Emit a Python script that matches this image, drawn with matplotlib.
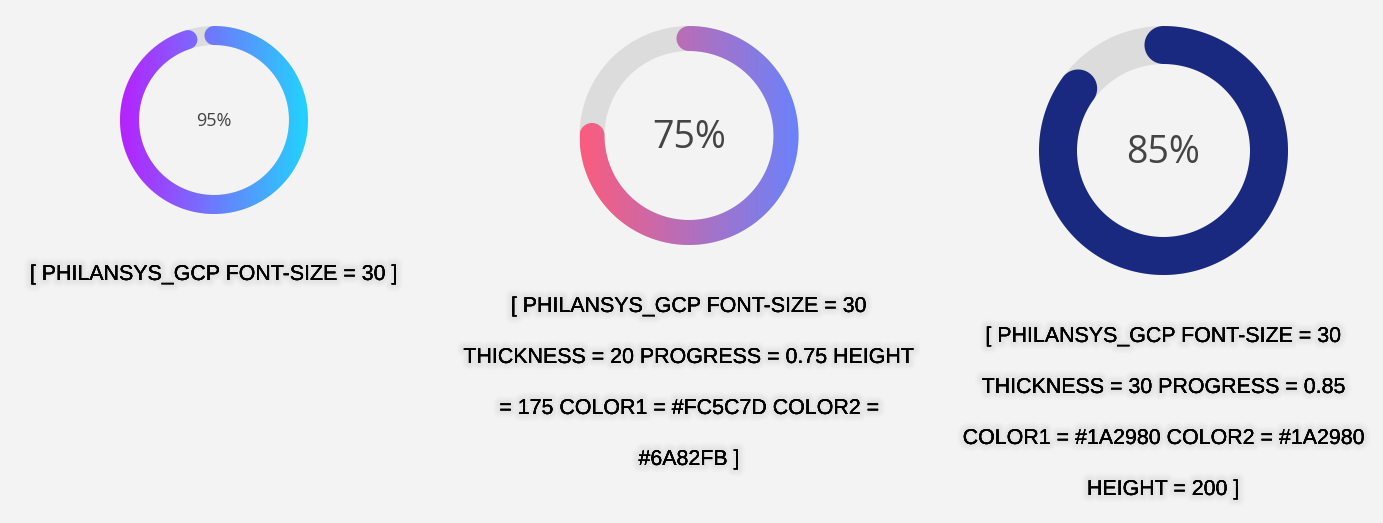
import numpy as np
import matplotlib.pyplot as plt
import matplotlib.patheffects as pe
from matplotlib.patches import Polygon, Wedge
from matplotlib.colors import LinearSegmentedColormap

# gauge settings (progress, colours, size in px)
progress = [0.95, 0.75, 0.85]
color1 = ['#B721FF', '#FC5C7D', '#1A2980']
color2 = ['#21D4FD', '#6A82FB', '#1A2980']
centers = [(214, 120), (689, 135.5), (1163.5, 150.5)]
outer_r = [94, 109.5, 124.5]
thickness = [19, 25, 38]
pct_size = [13, 27, 27]

labels = [
    ['[ PHILANSYS_GCP FONT-SIZE = 30 ]'],
    ['[ PHILANSYS_GCP FONT-SIZE = 30',
     'THICKNESS = 20 PROGRESS = 0.75 HEIGHT',
     '= 175 COLOR1 = #FC5C7D COLOR2 =',
     '#6A82FB ]'],
    ['[ PHILANSYS_GCP FONT-SIZE = 30',
     'THICKNESS = 30 PROGRESS = 0.85',
     'COLOR1 = #1A2980 COLOR2 = #1A2980',
     'HEIGHT = 200 ]'],
]
label_y0 = [280, 312, 342]
line_gap = 51

BG = '#f3f3f3'
TRACK = '#dcdcdc'


def arc_polygon(cx, cy, R, w, p, n=300):
    # filled outline of a thick arc with round caps, clockwise from 12 o'clock
    r = R - w
    rm = R - w / 2
    T = 2 * np.pi * p
    t = np.linspace(0, T, n)
    outer = np.c_[cx + R * np.sin(t), cy - R * np.cos(t)]
    inner = np.c_[cx + r * np.sin(t[::-1]), cy - r * np.cos(t[::-1])]
    phi = np.linspace(0, np.pi, 60)
    # end cap
    rad = np.array([np.sin(T), -np.cos(T)])
    tan = np.array([np.cos(T), np.sin(T)])
    c = np.array([cx + rm * np.sin(T), cy - rm * np.cos(T)])
    end_cap = c + (w / 2) * (np.cos(phi)[:, None] * rad + np.sin(phi)[:, None] * tan)
    # start cap
    rad0 = np.array([0, -1])
    tan0 = np.array([1, 0])
    c0 = np.array([cx, cy - rm])
    ph = phi[::-1]
    start_cap = c0 + (w / 2) * (np.cos(ph)[:, None] * rad0 - np.sin(ph)[:, None] * tan0)
    return np.vstack([outer, end_cap, inner, start_cap])


fig = plt.figure(figsize=(13.83, 5.23), dpi=100, facecolor=BG)
ax = fig.add_axes([0, 0, 1, 1])
ax.set_xlim(0, 1383)
ax.set_ylim(523, 0)
ax.set_aspect('equal')
ax.axis('off')
ax.set_facecolor(BG)

# soft grey text-shadow
glow = [pe.withStroke(linewidth=10, foreground='#999999', alpha=0.035),
        pe.withStroke(linewidth=7, foreground='#999999', alpha=0.05),
        pe.withStroke(linewidth=4, foreground='#999999', alpha=0.05),
        pe.Normal()]

for i, p in enumerate(progress):
    cx, cy = centers[i]
    R, w = outer_r[i], thickness[i]
    ax.add_patch(Wedge((cx, cy), R, 0, 360, width=w, facecolor=TRACK, edgecolor='none'))

    poly = Polygon(arc_polygon(cx, cy, R, w, p), closed=True,
                   facecolor='none', edgecolor='none')
    ax.add_patch(poly)
    cmap = LinearSegmentedColormap.from_list('g%d' % i, [color1[i], color2[i]])
    grad = np.linspace(0, 1, 256)[None, :]
    im = ax.imshow(grad, cmap=cmap, extent=(cx - R, cx + R, cy + R, cy - R),
                   aspect='auto', interpolation='bilinear', zorder=2)
    im.set_clip_path(poly)

    ax.text(cx, cy + pct_size[i] * 0.1, '%d%%' % round(p * 100), fontsize=pct_size[i],
            family='Open Sans', color='#444444', ha='center', va='center', zorder=3)

    for j, line in enumerate(labels[i]):
        ax.text(cx, label_y0[i] + j * line_gap, line, fontsize=15.4, family='Liberation Sans',
                color='#000000', ha='center', va='baseline', path_effects=glow)

ax.set_xlim(0, 1383)
ax.set_ylim(523, 0)
fig.savefig('out.png', dpi=100, facecolor=BG)
